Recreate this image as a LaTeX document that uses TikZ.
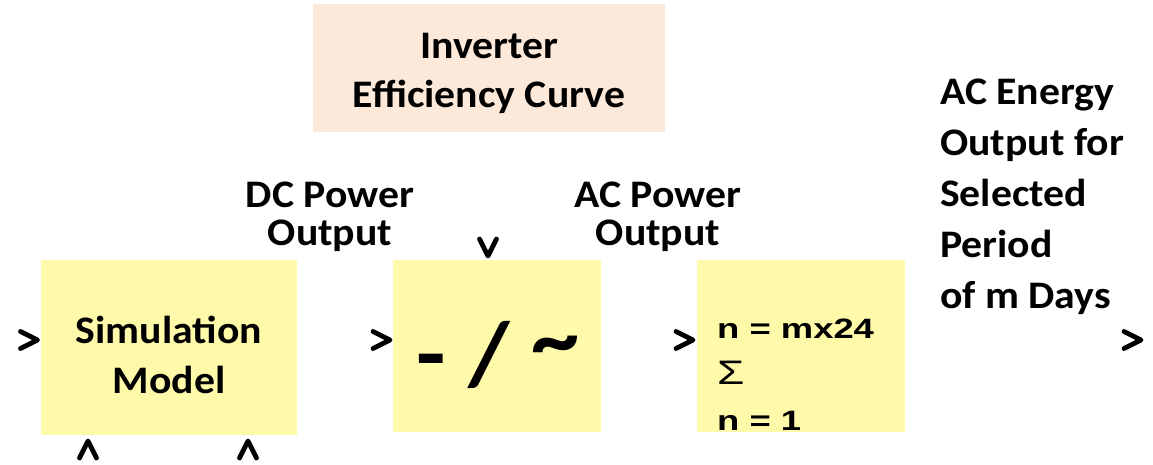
\documentclass[tikz,border=0pt]{standalone}
\usepackage{fontspec}
\setmainfont{Carlito}[FakeStretch=1.07]
\newfontfamily\sumfont{Liberation Sans}[FakeStretch=1.3]
\usetikzlibrary{positioning}
\definecolor{boxyellow}{RGB}{255,250,170}
\definecolor{boxpeach}{RGB}{253,233,217}

\begin{document}
\begin{tikzpicture}[x=1pt,y=-1pt,
  blk/.style={fill=boxyellow,inner sep=0pt,minimum width=208pt,minimum height=172pt},
  lab/.style={font=\fontsize{39}{39}\selectfont\bfseries,align=center,inner sep=0pt,anchor=base},
  chevline/.style={line width=4.8pt,line cap=round,line join=round},
  chev/.pic={\draw[chevline] (-17,-8.5) -- (0,0) -- (-17,8.5);}]
\useasboundingbox (0,0) rectangle (1153,464);
% blocks
\node[blk,minimum width=256pt,minimum height=175pt] (sim) at (169,347.5) {};
\node[blk] (inv) at (497,346) {};
\node[blk] (sum) at (801,346) {};
\node[fill=boxpeach,inner sep=0pt,minimum width=352pt,minimum height=128pt] (eff) at (489,68) {};
% texts (base = last line)
\node[lab,font=\fontsize{39}{50}\selectfont\bfseries] (simtxt) at (169,393) {Simulation\\Model};
\node[lab,font=\fontsize{90}{90}\selectfont\bfseries,anchor=center] (invtxt) at (498,355) {- / \raisebox{15pt}{\char`\~}};
\node[lab,font=\fontsize{28}{46}\selectfont\sumfont\bfseries,align=left,anchor=base west] (sumtxt) at (717,430) {n = mx24\\{\fontsize{34}{46}\selectfont\mdseries Σ}\\n = 1};
\node[lab,font=\fontsize{39}{49}\selectfont\bfseries] (efftxt) at (489,107) {Inverter\\Efficiency Curve};
\node[lab,font=\fontsize{39}{38}\selectfont\bfseries] (dctxt) at (330,245) {DC Power\\Output};
\node[lab,font=\fontsize{39}{38}\selectfont\bfseries] (actxt) at (658,245) {AC Power\\Output};
\node[lab,font=\fontsize{39}{51}\selectfont\bfseries,align=left,anchor=base west] (energytxt) at (940,308) {AC Energy\\Output for\\Selected\\Period\\of m Days};
% arrow heads
\pic at (37.5,340) {chev};
\pic at (390,340) {chev};
\pic at (693,340) {chev};
\pic at (1141,340) {chev};
\pic[rotate=-90] at (488,256) {chev};
\foreach \x in {88,248} \pic[rotate=90] at (\x,441) {chev};
\end{tikzpicture}
\end{document}
